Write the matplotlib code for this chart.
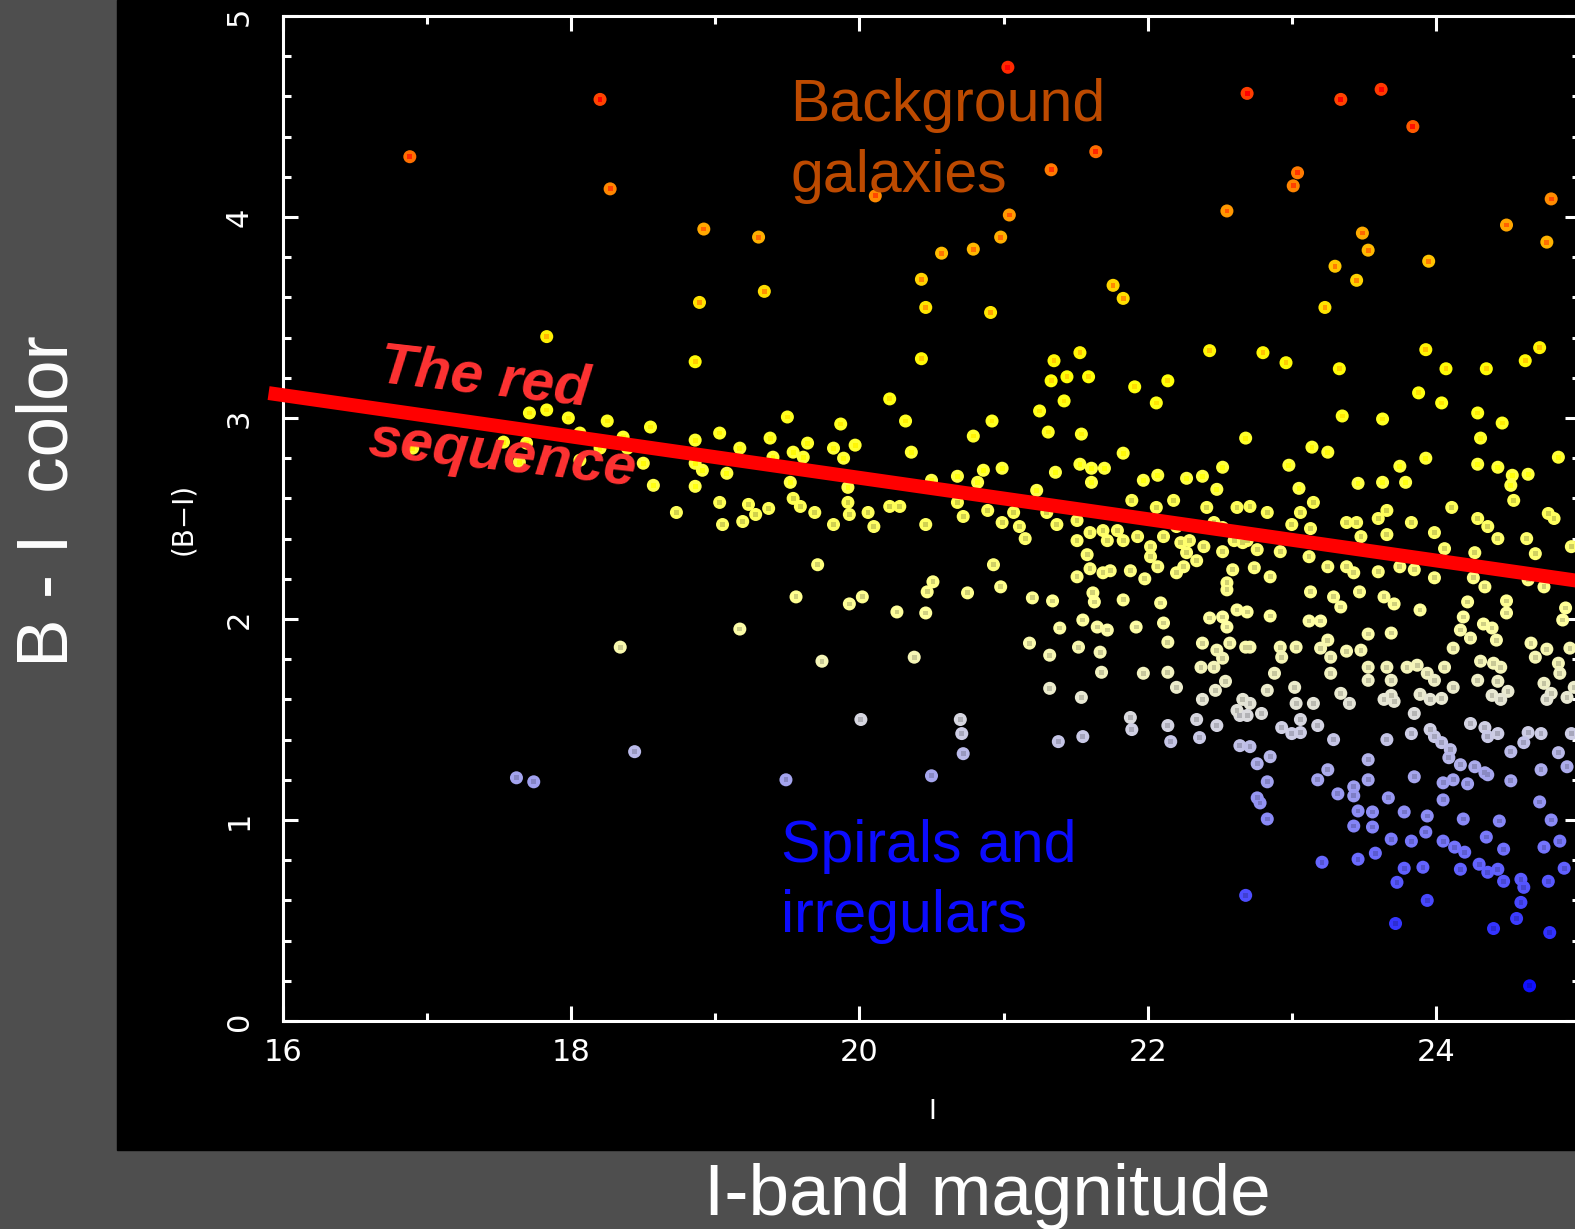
import numpy as np
import matplotlib
matplotlib.use("Agg")
import matplotlib.pyplot as plt
from matplotlib.colors import LinearSegmentedColormap, Normalize
from matplotlib.patches import Rectangle
from matplotlib.ticker import MultipleLocator

# galaxies: I-band magnitude and B-I colour
mag_i = [
    # red / orange background objects
    16.88, 18.20, 18.27, 21.03, 21.33, 21.64, 22.69, 23.34, 23.62, 23.84, 23.04, 23.01, 22.55,
    24.80, 24.49, 24.77, 20.11, 21.04, 20.98, 20.79, 20.57, 20.43, 20.46, 20.91, 20.43, 18.92,
    19.30, 19.34, 18.89, 18.86, 17.83, 21.76, 21.83, 23.49, 23.53, 23.30, 23.45, 23.23, 23.95,
    22.43, 22.80, 22.96, 23.33, 23.93, 24.07, 24.35, 24.72, 24.62, 21.35, 21.53, 21.33, 21.44,
    21.59, 21.25, 21.42, 21.91, 22.14, 22.06, 20.21, 23.88, 24.04, 23.35, 23.63, 24.29, 24.46,
    # bright end of the sequence
    17.71, 17.83, 17.98, 18.25, 18.55, 17.53, 17.69, 18.06, 18.20, 18.39, 18.50, 18.57, 18.73,
    18.86, 18.86, 18.86, 16.90, 17.64, 18.36, 18.06,
    20.32, 20.92, 20.79, 19.50, 19.87, 20.36, 19.03, 18.91, 19.08, 19.17, 19.38, 19.40, 19.54,
    19.64, 19.82, 19.97, 19.89, 19.61, 19.03, 19.23, 19.28, 19.19, 19.37, 19.05, 19.52, 19.54,
    19.59, 19.69, 19.82, 19.92, 19.92, 19.93, 20.06, 20.10, 20.21, 20.28, 20.46, 20.50, 20.68,
    20.68, 20.72, 20.82, 20.86, 20.99, 20.89, 20.99, 21.07, 21.11, 21.15, 21.23, 21.30, 21.36,
    21.37, 21.53, 21.61, 21.61, 21.70, 21.51, 21.51, 21.60, 21.69, 21.58, 21.60, 21.51, 21.69,
    21.62, 21.63, 19.71, 19.56, 20.02, 19.93, 20.26, 20.46, 20.51, 20.47, 20.75, 20.93, 20.98,
    21.20, 21.34, 21.31, 21.54,
    # middle of the cloud
    21.83, 22.68, 21.97, 22.07, 22.27, 22.38, 22.52, 22.48, 21.89, 22.18, 22.06, 22.41, 22.62,
    21.79, 21.83, 21.93, 22.02, 22.11, 22.20, 22.23, 22.29, 22.27, 22.34, 22.25, 22.20, 22.39,
    22.46, 22.52, 22.66, 22.02, 21.72, 21.74, 21.88, 22.07, 21.98, 21.83, 22.09, 22.55, 22.59,
    22.52, 22.62, 22.43, 22.55, 22.69, 21.55, 21.65, 21.72, 21.39, 21.92, 22.11, 21.18, 21.52,
    21.67, 22.14, 21.32, 22.38, 22.48, 22.52, 22.57, 22.37, 22.46, 22.68, 21.68, 21.97, 22.14,
    22.20, 22.54, 22.47, 21.32, 21.54, 22.38, 22.66, 22.64, 21.88, 22.34, 22.48, 22.14, 21.89,
    22.36, 20.70, 20.71, 20.72, 21.38, 21.55, 22.16, 22.64,
    # faint end
    23.14, 23.25, 22.98, 23.93, 24.31, 24.29, 24.43, 24.85, 23.75, 23.05, 23.15, 23.46, 23.63,
    23.79, 24.53, 24.64, 24.52, 24.54, 24.11, 23.66, 23.45, 23.60, 24.29, 24.36, 24.43, 24.78,
    24.82, 24.94, 23.99, 24.06, 24.27, 24.63, 24.69, 23.83, 23.66, 22.71, 22.83, 23.06, 23.00,
    23.13, 23.38, 23.48, 22.52, 22.60, 22.69, 22.76, 22.92, 23.12, 23.25, 23.38, 23.43, 23.60,
    23.75, 23.85, 23.99, 24.26, 24.34, 24.64, 24.75, 22.55, 22.74, 22.85, 23.13, 23.29, 23.34,
    23.47, 23.64, 23.71, 23.89, 24.22, 24.19, 24.33, 24.49, 24.49, 24.90, 24.88, 24.66, 24.77,
    24.93, 24.39, 24.42, 24.69, 24.85, 24.86, 24.40, 24.45, 24.29, 24.43, 24.50, 24.39, 24.45,
    24.75, 24.80, 24.77, 24.96, 24.91, 24.17, 24.24, 24.12, 24.31, 23.87, 23.94, 23.99, 23.89,
    23.96, 24.12, 23.80, 23.66, 23.69, 23.64, 23.85, 24.04, 24.06, 23.25, 23.38, 23.48, 23.20,
    23.27, 23.53, 23.53, 23.69, 23.71, 23.96, 23.99, 24.04, 24.10, 23.83, 23.66, 24.24, 24.34,
    24.36, 24.43, 24.52, 24.64, 24.73, 24.61, 24.85, 24.94, 24.73, 24.91, 24.27, 24.34, 24.52,
    24.12, 23.85, 23.53, 23.53, 23.25, 23.43, 23.29, 23.06, 23.00, 22.71, 22.85, 22.76, 22.83,
    22.76, 23.18, 23.32, 22.71, 22.92, 23.03, 22.85, 23.12, 23.20, 23.53, 23.69, 22.93, 23.27,
    22.88, 23.02, 22.83, 23.03, 23.15, 23.34, 23.40, 23.06, 23.18, 22.71, 22.62, 22.69, 22.79,
    22.93,
    # blue spirals and irregulars
    23.43, 24.09, 24.17, 24.05, 24.22, 24.36, 22.78, 22.83, 23.46, 23.56, 23.67, 23.78, 23.94,
    24.05, 24.19, 24.44, 24.72, 24.80, 23.43, 23.56, 23.93, 23.83, 23.69, 24.05, 24.13, 24.20,
    24.35, 24.47, 24.75, 24.86, 23.21, 23.46, 23.58, 23.78, 23.73, 23.91, 24.17, 24.30, 24.36,
    24.43, 24.47, 24.59, 24.61, 24.78, 24.89, 24.59, 24.56, 23.94, 23.72, 24.40, 24.79, 24.65,
    22.68,
    18.34, 19.17, 19.74, 20.38, 20.01, 20.50, 19.49, 18.44, 17.62, 17.74,
]

color_bi = [
    4.30, 4.585, 4.14, 4.745, 4.235, 4.325, 4.615, 4.585, 4.635, 4.45, 4.22, 4.155, 4.03,
    4.09, 3.96, 3.875, 4.105, 4.01, 3.90, 3.84, 3.82, 3.69, 3.55, 3.525, 3.295, 3.94,
    3.90, 3.63, 3.575, 3.28, 3.405, 3.66, 3.595, 3.92, 3.835, 3.755, 3.685, 3.55, 3.78,
    3.335, 3.325, 3.275, 3.245, 3.34, 3.245, 3.245, 3.35, 3.285, 3.285, 3.325, 3.185, 3.205,
    3.205, 3.035, 3.085, 3.155, 3.185, 3.075, 3.095, 3.125, 3.075, 3.01, 2.995, 3.025, 2.975,
    3.025, 3.04, 3.00, 2.985, 2.955, 2.88, 2.875, 2.925, 2.85, 2.85, 2.775, 2.665, 2.53,
    2.89, 2.775, 2.66, 2.85, 2.78, 2.905, 2.79,
    2.985, 2.985, 2.91, 3.005, 2.97, 2.83, 2.925, 2.74, 2.725, 2.85, 2.90, 2.805, 2.83,
    2.875, 2.85, 2.865, 2.80, 2.805, 2.58, 2.57, 2.52, 2.485, 2.55, 2.47, 2.68, 2.60,
    2.56, 2.53, 2.47, 2.655, 2.58, 2.52, 2.53, 2.46, 2.56, 2.56, 2.47, 2.69, 2.71,
    2.58, 2.51, 2.68, 2.74, 2.75, 2.54, 2.48, 2.53, 2.46, 2.40, 2.64, 2.53, 2.73,
    2.47, 2.77, 2.75, 2.68, 2.75, 2.49, 2.39, 2.43, 2.44, 2.32, 2.25, 2.21, 2.23,
    2.13, 2.085, 2.27, 2.11, 2.11, 2.075, 2.035, 2.03, 2.185, 2.135, 2.13, 2.27, 2.16,
    2.105, 2.09, 2.93, 2.92,
    2.825, 2.90, 2.69, 2.715, 2.70, 2.71, 2.755, 2.645, 2.59, 2.59, 2.555, 2.555, 2.555,
    2.44, 2.39, 2.41, 2.36, 2.41, 2.46, 2.38, 2.39, 2.33, 2.29, 2.26, 2.23, 2.36,
    2.48, 2.335, 2.38, 2.31, 2.39, 2.24, 2.24, 2.26, 2.20, 2.095, 2.08, 2.18, 2.245,
    2.01, 2.045, 2.005, 1.96, 2.035, 1.995, 1.96, 1.945, 1.955, 1.96, 1.98, 1.88, 1.86,
    1.835, 1.885, 1.82, 1.88, 1.845, 1.805, 1.88, 1.76, 1.76, 1.86, 1.735, 1.73, 1.735,
    1.66, 1.69, 1.645, 1.655, 1.61, 1.60, 1.60, 1.52, 1.51, 1.50, 1.47, 1.47, 1.45,
    1.41, 1.50, 1.43, 1.33, 1.39, 1.415, 1.39, 1.37,
    2.855, 2.83, 2.765, 2.80, 2.90, 2.77, 2.755, 2.805, 2.76, 2.65, 2.58, 2.675, 2.68,
    2.68, 2.715, 2.72, 2.665, 2.59, 2.555, 2.54, 2.48, 2.50, 2.50, 2.46, 2.40, 2.525,
    2.50, 2.36, 2.43, 2.35, 2.33, 2.40, 2.325, 2.48, 2.42, 2.56, 2.53, 2.53, 2.47,
    2.45, 2.48, 2.41, 2.455, 2.39, 2.39, 2.345, 2.335, 2.31, 2.26, 2.26, 2.23, 2.235,
    2.26, 2.245, 2.205, 2.205, 2.16, 2.195, 2.16, 2.145, 2.255, 2.21, 2.135, 2.11, 2.06,
    2.135, 2.11, 2.075, 2.045, 2.085, 2.01, 1.975, 2.09, 2.03, 2.055, 1.995, 1.88, 1.85,
    1.855, 1.955, 1.895, 1.81, 1.78, 1.73, 1.78, 1.76, 1.695, 1.69, 1.64, 1.62, 1.60,
    1.68, 1.63, 1.60, 1.66, 1.61, 1.945, 1.905, 1.855, 1.79, 1.77, 1.73, 1.695, 1.625,
    1.60, 1.66, 1.76, 1.76, 1.62, 1.60, 1.53, 1.605, 1.76, 1.895, 1.84, 1.845, 1.855,
    1.81, 1.76, 1.695, 1.695, 1.59, 1.45, 1.415, 1.385, 1.35, 1.43, 1.40, 1.48, 1.46,
    1.415, 1.43, 1.34, 1.435, 1.43, 1.385, 1.335, 1.43, 1.25, 1.265, 1.265, 1.235, 1.195,
    1.20, 1.215, 1.20, 1.30, 1.25, 1.165, 1.40, 1.435, 1.43, 1.365, 1.315, 1.28, 1.19,
    1.11, 1.20, 1.13, 1.86, 1.86, 1.86, 2.015, 1.99, 1.99, 1.925, 1.93, 1.81, 1.73,
    1.73, 1.66, 1.645, 1.58, 1.58, 1.63, 1.58, 1.50, 1.47, 1.58, 1.545, 1.52, 1.53,
    1.46,
    1.12, 1.31, 1.275, 1.185, 1.18, 1.225, 1.085, 1.005, 1.045, 1.04, 1.11, 1.04, 1.02,
    1.10, 1.005, 0.995, 1.09, 1.00, 0.97, 0.965, 0.94, 0.895, 0.905, 0.895, 0.865, 0.84,
    0.915, 0.855, 0.865, 0.895, 0.79, 0.805, 0.835, 0.76, 0.69, 0.765, 0.755, 0.78, 0.74,
    0.755, 0.695, 0.705, 0.665, 0.695, 0.76, 0.59, 0.51, 0.60, 0.485, 0.46, 0.44, 0.175,
    0.625,
    1.86, 1.95, 1.79, 1.81, 1.50, 1.22, 1.20, 1.34, 1.21, 1.19,
]

# red sequence line
seq_i = [15.9, 25.5]
seq_bi = [3.124, 2.137]

x_ticks = [16, 18, 20, 22, 24]
y_ticks = [0, 1, 2, 3, 4, 5]

W, H = 1575, 1229
fig = plt.figure(figsize=(W / 100, H / 100), dpi=100, facecolor='#4e4e4e')

# black panel behind the plot
fig.add_artist(Rectangle((117 / W, 1 - 1150 / H), 1, 1150 / H,
                         transform=fig.transFigure, color='black', zorder=0))

ax = fig.add_axes([283 / W, 1 - 1021 / H, 1297 / W, 1005 / H])
ax.set_facecolor('black')
ax.set_xlim(16, 25)
ax.set_ylim(0, 5)

# colour scale running blue -> white -> yellow -> red with B-I
nodes = [
    (0.0, '#0000ff'), (0.2, '#1414ff'), (0.5, '#3a3aff'), (0.8, '#6a6aff'),
    (1.0, '#8a8af6'), (1.25, '#ababec'), (1.45, '#d0d0e4'), (1.6, '#e8e8d4'),
    (1.75, '#f4f4bc'), (2.0, '#ffffa0'), (2.4, '#ffff6c'), (2.8, '#ffff38'),
    (3.2, '#ffff08'), (3.6, '#ffe000'), (3.85, '#ffb800'), (4.1, '#ff8c00'),
    (4.35, '#ff6a00'), (4.6, '#ff4200'), (4.8, '#ff2000'), (5.0, '#ff0000'),
]
cmap = LinearSegmentedColormap.from_list('bi', [(v / 5, c) for v, c in nodes])
norm = Normalize(0, 5)

bi = np.array(color_bi)
ax.scatter(mag_i, color_bi, c=color_bi, cmap=cmap, norm=norm, s=88,
           marker='o', linewidths=0, zorder=2)

# darker core pixel on each blob
core = cmap(norm(bi))
warm = bi > 2.6
core[warm] = cmap(norm(bi[warm] + 0.45))
core[~warm, :3] *= 0.82
ax.scatter(mag_i, color_bi, c=core, s=12, marker='s', linewidths=0, zorder=3)

ax.plot(seq_i, seq_bi, color='#ff0000', lw=10, solid_capstyle='butt',
        clip_on=False, zorder=5)

# frame and ticks
for sp in ax.spines.values():
    sp.set_color('white')
    sp.set_linewidth(2.2)
ax.xaxis.set_major_locator(MultipleLocator(2))
ax.xaxis.set_minor_locator(MultipleLocator(1))
ax.yaxis.set_major_locator(MultipleLocator(1))
ax.yaxis.set_minor_locator(MultipleLocator(0.2))
ax.set_xticks(x_ticks)
ax.set_xticklabels([str(v) for v in x_ticks])
ax.set_yticks(y_ticks)
ax.set_yticklabels([str(v) for v in y_ticks])
ax.tick_params(which='both', direction='in', top=True, right=True,
               colors='white', width=2.2, labelsize=22)
ax.tick_params(which='major', length=11)
ax.tick_params(which='minor', length=6)
ax.tick_params(axis='x', pad=12)
ax.tick_params(axis='y', pad=21, labelrotation=90)
for lab in ax.get_yticklabels():
    lab.set_va('center')

ax.set_xlabel('I', color='white', fontsize=19)
ax.xaxis.set_label_coords(0.5004, -0.078)
ax.set_ylabel('(B\u2212I)', color='white', fontsize=20)
ax.yaxis.set_label_coords(-0.066, 0.5)

# annotations
ann = dict(family='Liberation Sans', fontsize=42.5, ha='left', va='baseline', zorder=6)
ax.text(19.52, 4.48, 'Background', color='#bd4a00', **ann)
ax.text(19.52, 4.125, 'galaxies', color='#bd4a00', **ann)
ax.text(19.456, 0.79, 'Spirals and', color='#0c0cff', **ann)
ax.text(19.456, 0.443, 'irregulars', color='#0c0cff', **ann)

red = dict(family='Liberation Sans', fontsize=42, fontweight='bold', style='italic',
           color='#ff3333', ha='left', va='baseline', rotation=-6.5,
           rotation_mode='anchor', zorder=6)
ax.text(16.66, 3.184, 'The red', **red)
ax.text(16.58, 2.816, 'sequence', **red)

# outer titles on the grey frame
fig.text(987 / W, 1 - 1215 / H, 'I-band magnitude', family='Liberation Sans',
         fontsize=52.5, color='white', ha='center', va='baseline')
fig.text(68 / W, 1 - 501 / H, 'B - I  color', family='Liberation Sans',
         fontsize=52.5, color='white', ha='center', va='baseline',
         rotation=90, rotation_mode='anchor')

fig.savefig('out.png', dpi=100, facecolor=fig.get_facecolor())
